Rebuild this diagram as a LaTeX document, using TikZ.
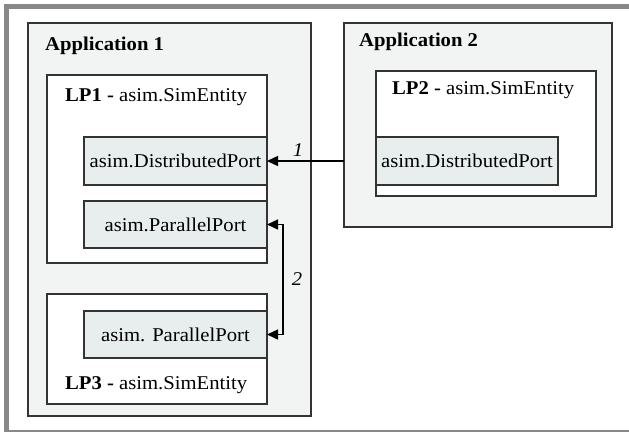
\documentclass[tikz,border=0pt]{standalone}
\usepackage{fontspec}
\setmainfont{Liberation Serif}[FakeStretch=1.06]
\usetikzlibrary{arrows.meta}
\definecolor{appfill}{HTML}{F2F3F3}
\definecolor{portfill}{HTML}{E8EDED}
\definecolor{framegray}{HTML}{888888}
\definecolor{edge}{HTML}{333333}
\tikzset{
  box/.style={draw=edge, line width=1.4pt, anchor=north west, inner sep=0pt, outer sep=0pt},
  appbox/.style={box, fill=appfill},
  lpbox/.style={box, fill=white},
  portbox/.style={box, fill=portfill, font=\fontsize{19.5}{23}\selectfont},
  title/.style={anchor=base west, inner sep=0pt, font=\fontsize{19.5}{23}\selectfont},
  lbl/.style={inner sep=0pt, font=\fontsize{19.5}{23}\selectfont\itshape},
  arr/.style={draw=black, line width=1.4pt, -{Triangle[length=11pt,width=10pt]}},
  darr/.style={draw=black, line width=1.4pt, {Triangle[length=11pt,width=10pt]}-{Triangle[length=11pt,width=10pt]}}
}
\begin{document}
\begin{tikzpicture}[x=1pt,y=-1pt]
\useasboundingbox (0,0) rectangle (629,432);
% outer frame
\fill[white] (0,0) rectangle (629,432);
\fill[framegray] (4,4) rectangle (629,9);
\fill[framegray] (4,4) rectangle (9,432);
\draw[framegray, line width=1.5pt] (9,431) -- (629,431);
% Application 1
\node[appbox, minimum width=283, minimum height=393] (app1) at (28,23) {};
\node[title] (app1t) at (45,50) {\bfseries Application 1};
% LP1
\node[lpbox, minimum width=220, minimum height=188] (lp1) at (47,75) {};
\node[title] (lp1t) at (65,101) {\textbf{LP1 -} asim.SimEntity};
\node[portbox, minimum width=183, minimum height=48] (dp1) at (84,137) {asim.DistributedPort};
\node[portbox, minimum width=183, minimum height=47] (pp1) at (84,201) {asim.ParallelPort};
% LP3
\node[lpbox, minimum width=220, minimum height=110] (lp3) at (47,294) {};
\node[portbox, minimum width=183, minimum height=47] (pp3) at (84,311) {asim. ParallelPort};
\node[title] (lp3t) at (65,389) {\textbf{LP3 -} asim.SimEntity};
% Application 2
\node[appbox, minimum width=268, minimum height=204] (app2) at (344,23) {};
\node[title] (app2t) at (359,46) {\bfseries Application 2};
\node[lpbox, minimum width=220, minimum height=125] (lp2) at (376,71) {};
\node[title] (lp2t) at (392,94) {\textbf{LP2 -} asim.SimEntity};
\node[portbox, minimum width=182, minimum height=48] (dp2) at (376,137) {asim.DistributedPort};
% connectors
\coordinate (c1) at (app2.west |- dp1.east);
\draw[arr] (c1) -- (dp1.east);
\node[lbl] (l1) at (298,150) {1};
\draw[darr] (pp1.east) -- ++(16,0) |- (pp3.east);
\node[lbl] (l2) at (297,279) {2};
\end{tikzpicture}
\end{document}
